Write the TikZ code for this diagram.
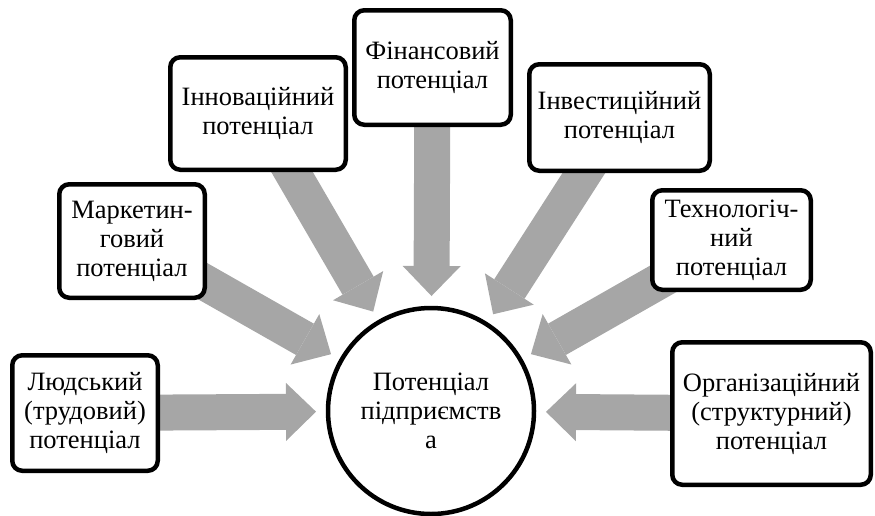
\documentclass[tikz,border=0pt]{standalone}
\usepackage{fontspec}
\setmainfont{Liberation Serif}
\usepackage{tikz}
\usetikzlibrary{arrows.meta}
\usetikzlibrary{backgrounds}

\begin{document}
\begin{tikzpicture}[x=1pt,y=-1pt,
    potbox/.style={draw, line width=4.5pt, rounded corners=10pt, fill=white,
      align=center, inner sep=0pt, font=\fontsize{26.5}{29}\selectfont},
    potcircle/.style={draw, circle, line width=4.5pt, fill=white, align=center,
      minimum size=206pt, inner sep=0pt, outer sep=12pt, font=\fontsize{26.5}{29}\selectfont},
    potarrow/.style={draw=r166g166b166, line width=36pt,
      -{Triangle[width=58pt,length=30pt,line width=0pt]}}]
                    \useasboundingbox (0,0) rectangle (875,515);%

                    % Changing color 166 166 166
                    \definecolor{r166g166b166}{rgb}{0.650980,0.650980,0.650980}%

                    % Central circle
                    \node [potcircle] (pot) at (431,411) {Потенціал\\підприємств\\а};%

                    % Box left-bottom
                    \node [potbox, minimum width=145.5pt, minimum height=115.5pt] (lyud) at (85,413) {Людський\\(трудовий)\\потенціал};%

                    % Box left
                    \node [potbox, minimum width=145.5pt, minimum height=113.5pt] (mark) at (132,241) {Маркетин-\\говий\\потенціал};%

                    % Box left-top
                    \node [potbox, minimum width=175.5pt, minimum height=112.5pt] (innov) at (258,113.5) {Інноваційний\\потенціал};%

                    % Box top
                    \node [potbox, minimum width=156.5pt, minimum height=114.5pt] (fin) at (432.5,67.5) {Фінансовий\\потенціал};%

                    % Box right-top
                    \node [potbox, minimum width=180.5pt, minimum height=106.5pt] (invest) at (619.5,117.5) {Інвестиційний\\потенціал};%

                    % Box right
                    \node [potbox, minimum width=158.5pt, minimum height=99.5pt] (tech) at (731.5,240) {Технологіч-\\ний\\потенціал};%

                    % Box right-bottom
                    \node [potbox, minimum width=198.5pt, minimum height=142.5pt] (org) at (771.5,413.5) {Організаційний\\(структурний)\\потенціал};%

                    % Drawing arrows box -> circle
                    \begin{scope}[on background layer]
                    \draw [potarrow] (lyud.center) -- (pot);%
                    \draw [potarrow] (mark.center) -- (pot);%
                    \draw [potarrow] (innov.center) -- (pot);%
                    \draw [potarrow] (fin.center) -- (pot);%
                    \draw [potarrow] (invest.center) -- (pot);%
                    \draw [potarrow] (tech.center) -- (pot);%
                    \draw [potarrow] (org.center) -- (pot);%
                    \end{scope}
\end{tikzpicture}
\end{document}
